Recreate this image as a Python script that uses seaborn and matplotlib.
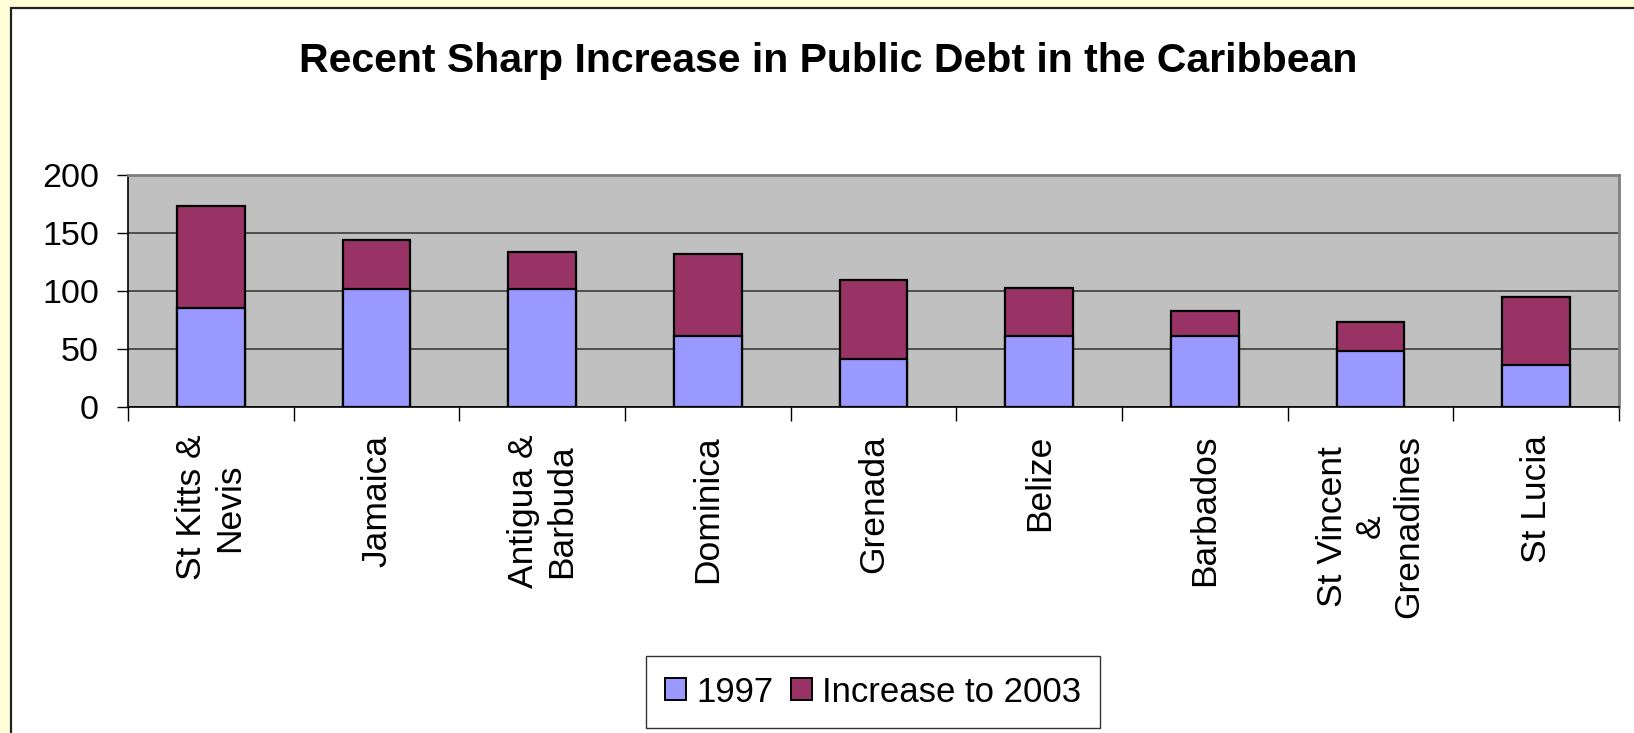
import numpy as np
import pandas as pd
import matplotlib
matplotlib.use("Agg")
import matplotlib.pyplot as plt
from matplotlib.patches import Rectangle, Patch
import seaborn as sns

countries = [
    "St Kitts &\nNevis",
    "Jamaica",
    "Antigua &\nBarbuda",
    "Dominica",
    "Grenada",
    "Belize",
    "Barbados",
    "St Vincent\n&\nGrenadines",
    "St Lucia",
]
debt_1997 = [85, 102, 102, 61, 41, 61, 61, 48.5, 36]
increase_2003 = [88, 42, 32, 70.5, 68.5, 41.5, 22, 24.5, 59]

BLUE = "#9999FF"
PLUM = "#993366"
YELLOW = "#FFFFD8"

sns.set_style("white")
plt.rcParams["font.family"] = ["Liberation Sans", "DejaVu Sans"]
plt.rcParams["text.color"] = "black"
plt.rcParams["xtick.color"] = "black"
plt.rcParams["ytick.color"] = "black"

df = pd.DataFrame({"country": countries, "1997": debt_1997, "increase": increase_2003})
df["total"] = df["1997"] + df["increase"]

fig = plt.figure(figsize=(16.34, 7.33), dpi=100, facecolor=YELLOW)
# white chart area with dark border (extends past right/bottom edges)
fig.patches.append(Rectangle((11 / 1634, -0.05), 1.2, 1.05 - 8 / 733,
                             transform=fig.transFigure, facecolor="white",
                             edgecolor="#222222", linewidth=1.6, zorder=-1))

ax = fig.add_axes([128 / 1634, 1 - 407 / 733, (1619 - 128) / 1634, (407 - 175) / 733])
ax.set_zorder(2)
ax.set_facecolor("#C0C0C0")

# stacked: draw totals first, then the 1997 part over it
sns.barplot(data=df, x="country", y="total", color=PLUM, width=0.41,
            edgecolor="black", linewidth=1.6, saturation=1, ax=ax, zorder=3)
sns.barplot(data=df, x="country", y="1997", color=BLUE, width=0.41,
            edgecolor="black", linewidth=1.6, saturation=1, ax=ax, zorder=4)

ax.set_ylim(0, 200)
ax.set_xlim(-0.5, len(countries) - 0.5)
ax.set_yticks([0, 50, 100, 150, 200])
ax.tick_params(axis="y", labelsize=24.5, length=8, width=1, pad=13, left=True,
               labelcolor="black")
ax.yaxis.grid(True, color="#303030", linewidth=1.1, zorder=1)
ax.set_axisbelow(True)

# ticks on category boundaries, labels at centres
ax.set_xticks(np.arange(-0.5, len(countries)), labels=[""] * (len(countries) + 1))
ax.set_xticks(np.arange(len(countries)), labels=countries, minor=True)
ax.tick_params(axis="x", which="major", length=10, width=1, bottom=True, direction="out")
ax.tick_params(axis="x", which="minor", length=0, pad=20, labelsize=25.5,
               labelcolor="black")
for lbl in ax.get_xticklabels(minor=True):
    lbl.set_rotation(90)
    lbl.set_ha("center")
    lbl.set_va("top")
    lbl.set_multialignment("center")

ax.set_xlabel("")
ax.set_ylabel("")
for side in ["left", "bottom"]:
    ax.spines[side].set_color("black")
    ax.spines[side].set_linewidth(1.2)
for side in ["top", "right"]:
    ax.spines[side].set_visible(True)
    ax.spines[side].set_color("#808080")
    ax.spines[side].set_linewidth(2)

fig.text(0.507, 1 - 61 / 733, "Recent Sharp Increase in Public Debt in the Caribbean",
         ha="center", va="center", fontsize=29.5, fontweight="bold", color="black")

handles = [Patch(facecolor=BLUE, edgecolor="black", linewidth=1.4, label="1997"),
           Patch(facecolor=PLUM, edgecolor="black", linewidth=1.4, label="Increase to 2003")]
leg = fig.legend(handles=handles, loc="center", bbox_to_anchor=(873 / 1634, 1 - 692 / 733),
                 ncol=2, fontsize=25, frameon=True, fancybox=False, handlelength=0.6,
                 handleheight=0.6, handletextpad=0.3, columnspacing=0.5,
                 borderpad=0.55, borderaxespad=0)
leg.get_frame().set_edgecolor("black")
leg.get_frame().set_linewidth(1)
for t in leg.get_texts():
    t.set_color("black")

fig.savefig("out.png", dpi=100, facecolor=YELLOW)
